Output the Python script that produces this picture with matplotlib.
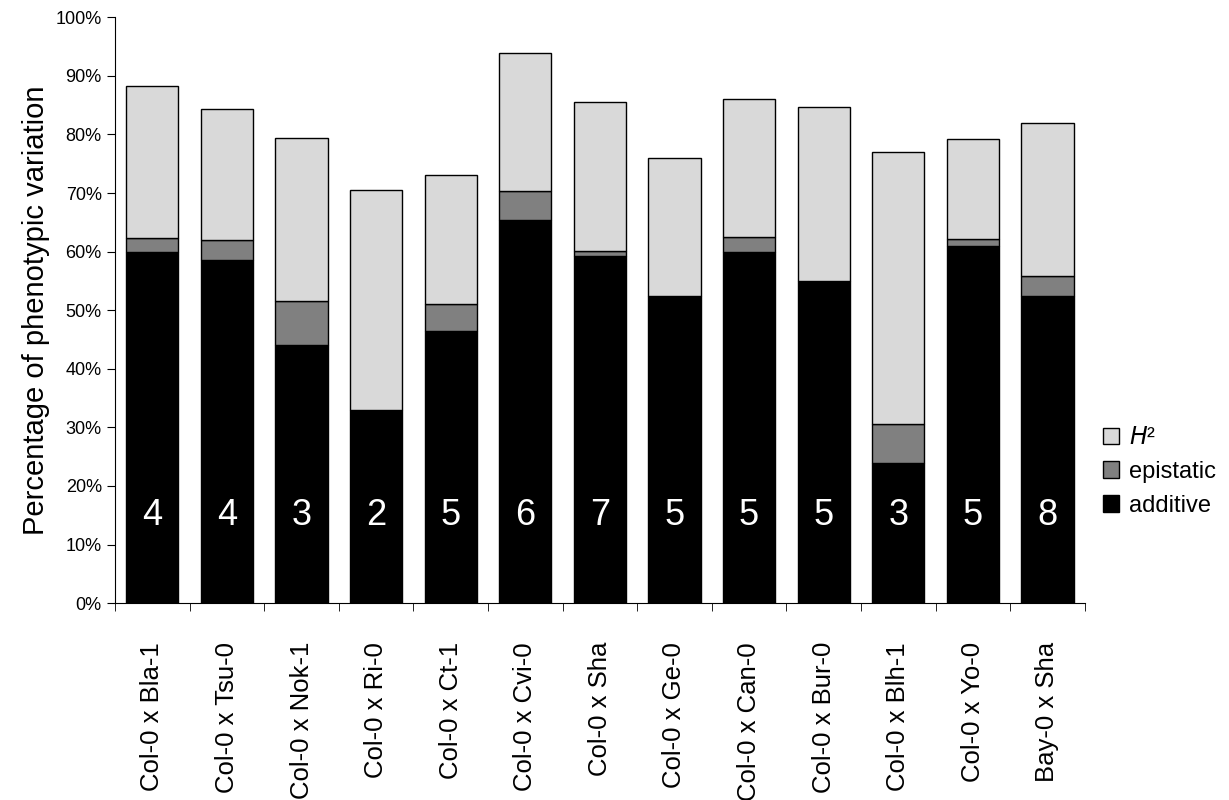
import matplotlib
matplotlib.use("Agg")
import matplotlib.pyplot as plt
import numpy as np
from matplotlib.patches import Patch

plt.rcParams['font.family'] = ['Liberation Sans', 'DejaVu Sans']

crosses = ["Col-0 x Bla-1", "Col-0 x Tsu-0", "Col-0 x Nok-1", "Col-0 x Ri-0", "Col-0 x Ct-1",
           "Col-0 x Cvi-0", "Col-0 x Sha", "Col-0 x Ge-0", "Col-0 x Can-0", "Col-0 x Bur-0",
           "Col-0 x Blh-1", "Col-0 x Yo-0", "Bay-0 x Sha"]
additive = [60.0, 58.6, 44.0, 33.0, 46.4, 65.4, 59.3, 52.5, 60.0, 55.0, 24.0, 61.0, 52.5]
epistatic = [2.3, 3.4, 7.6, 0.0, 4.7, 4.9, 0.8, 0.0, 2.5, 0.0, 6.5, 1.2, 3.3]
total_h2 = [88.3, 84.3, 79.4, 70.5, 73.1, 93.9, 85.5, 75.9, 86.0, 84.7, 77.0, 79.2, 82.0]
n_qtl = [4, 4, 3, 2, 5, 6, 7, 5, 5, 5, 3, 5, 8]

add = np.array(additive)
epi = np.array(epistatic)
rest = np.array(total_h2) - add - epi
x = np.arange(len(crosses))

fig = plt.figure(figsize=(12.29, 8), dpi=100)
ax = fig.add_axes([0.0936, 0.246, 0.789, 0.7325])
w = 0.7
kw = dict(width=w, edgecolor='black', linewidth=1)
ax.bar(x, add, color='black', **kw)
ax.bar(x, epi, bottom=add, color='#808080', **kw)
ax.bar(x, rest, bottom=add + epi, color='#d9d9d9', **kw)

for xi, n in zip(x, n_qtl):
    ax.text(xi, 15, str(n), color='white', ha='center', va='center', fontsize=26)

ax.set_xlim(-0.5, len(crosses) - 0.5)
ax.set_ylim(0, 100)
ax.set_yticks(np.arange(0, 101, 10))
ax.set_yticklabels([f"{v}%" for v in range(0, 101, 10)], fontsize=13)
ax.set_xticks(x)
ax.set_xticklabels(crosses, rotation=90, fontsize=18.5)
ax.tick_params(axis='x', which='major', length=0, pad=28)
ax.set_xticks(np.arange(-0.5, len(crosses), 1), minor=True)
ax.tick_params(axis='x', which='minor', length=6, direction='out')
ax.tick_params(axis='y', length=6, direction='out')
ax.spines['top'].set_visible(False)
ax.spines['right'].set_visible(False)
ax.set_ylabel("Percentage of phenotypic variation", fontsize=21)

handles = [Patch(facecolor='#d9d9d9', edgecolor='black', label='$H$²'),
           Patch(facecolor='#808080', edgecolor='black', label='epistatic'),
           Patch(facecolor='black', edgecolor='black', label='additive')]
fig.legend(handles=handles, loc='center left', bbox_to_anchor=(0.88, 0.41),
           frameon=False, fontsize=17, handlelength=0.7, handleheight=0.7,
           handletextpad=0.4, labelspacing=0.5)

fig.savefig("out.png", dpi=100)
